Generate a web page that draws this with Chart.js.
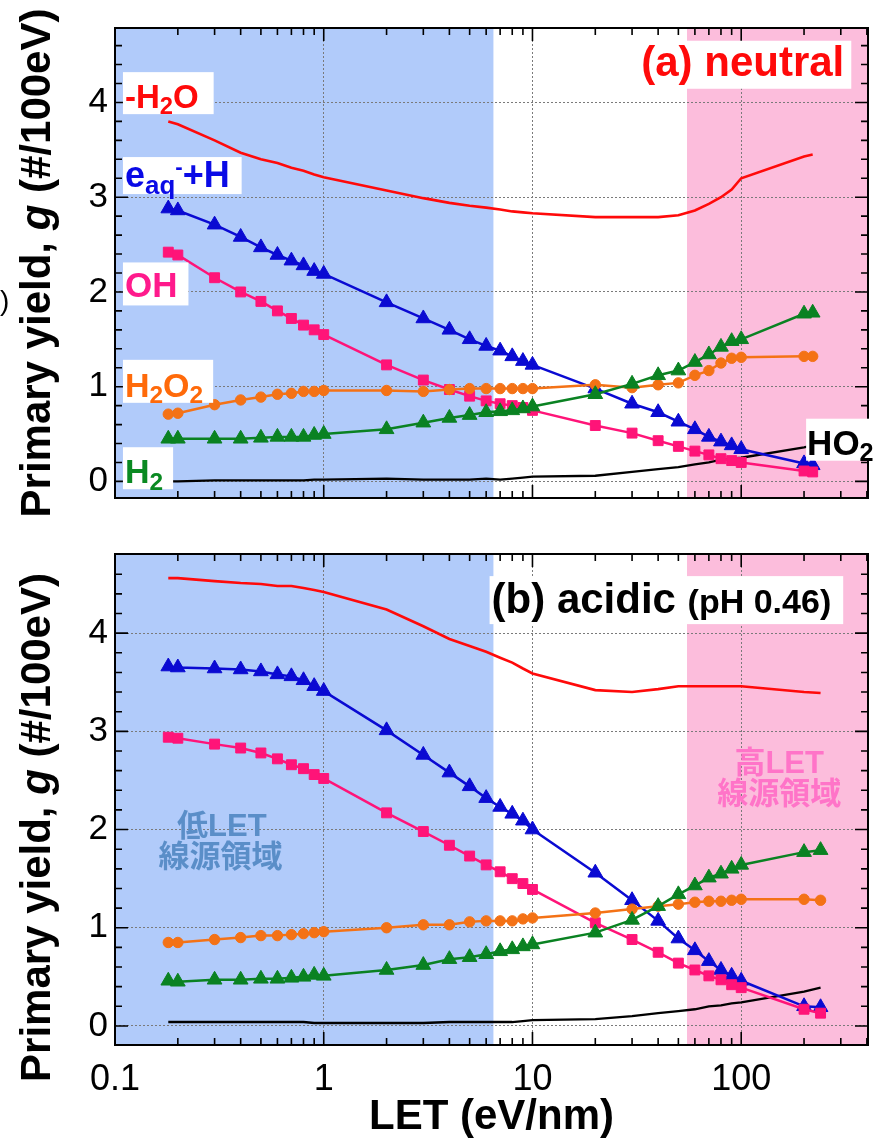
<!DOCTYPE html>
<html>
<head>
<meta charset="utf-8">
<script src="https://cdn.jsdelivr.net/npm/chart.js@4.4.1/dist/chart.umd.min.js"></script>
<style>
html,body{margin:0;padding:0;background:#fff;}
#wrap{position:relative;width:879px;height:1143px;overflow:hidden;background:#fff;}
#cA{position:absolute;left:0;top:0;}
#cB{position:absolute;left:0;top:526px;}
</style>
</head>
<body>
<div id="wrap">
<canvas id="cA" width="879" height="526"></canvas>
<canvas id="cB" width="879" height="617"></canvas>
</div>
<script>
// ---------- data (LET in eV/nm, primary yields g in #/100eV) ----------
const LET_NEUTRAL = [0.18,0.2,0.3,0.4,0.5,0.6,0.7,0.8,0.9,1,2,3,4,5,6,7,8,9,10,20,30,40,50,60,70,80,90,100,200,220];
const LET_ACIDIC  = [0.18,0.2,0.3,0.4,0.5,0.6,0.7,0.8,0.9,1,2,3,4,5,6,7,8,9,10,20,30,40,50,60,70,80,90,100,200,240];

const G_H2O_NEUTRAL  = [3.80,3.77,3.60,3.47,3.40,3.36,3.31,3.28,3.24,3.21,3.07,2.99,2.94,2.91,2.89,2.87,2.85,2.84,2.83,2.79,2.79,2.79,2.81,2.86,2.93,3.00,3.08,3.20,3.43,3.45];
const G_EAQH_NEUTRAL = [2.88,2.86,2.71,2.58,2.47,2.39,2.33,2.28,2.22,2.19,1.89,1.72,1.60,1.50,1.43,1.38,1.32,1.27,1.23,0.98,0.82,0.73,0.63,0.55,0.47,0.42,0.38,0.34,0.19,0.17];
const G_OH_NEUTRAL   = [2.42,2.39,2.15,2.00,1.90,1.80,1.72,1.65,1.60,1.55,1.23,1.07,0.97,0.90,0.85,0.82,0.80,0.78,0.75,0.59,0.51,0.43,0.37,0.32,0.28,0.24,0.22,0.20,0.11,0.10];
const G_H2O2_NEUTRAL = [0.71,0.72,0.81,0.86,0.89,0.92,0.93,0.95,0.95,0.96,0.96,0.95,0.97,0.98,0.98,0.98,0.98,0.98,0.98,1.02,0.99,1.02,1.04,1.12,1.17,1.25,1.30,1.31,1.32,1.32];
const G_H2_NEUTRAL   = [0.45,0.45,0.45,0.45,0.46,0.47,0.47,0.47,0.49,0.50,0.55,0.62,0.67,0.70,0.73,0.74,0.75,0.77,0.79,0.92,1.03,1.12,1.17,1.26,1.34,1.42,1.48,1.50,1.77,1.78];
const G_HO2_NEUTRAL  = [0.00,0.00,0.01,0.01,0.01,0.01,0.01,0.01,0.02,0.02,0.03,0.02,0.02,0.02,0.03,0.02,0.03,0.04,0.05,0.06,0.10,0.13,0.15,0.18,0.20,0.23,0.24,0.25,0.36,0.38];

const G_H2O_ACIDIC  = [4.56,4.56,4.53,4.51,4.50,4.48,4.48,4.46,4.44,4.42,4.24,4.07,3.94,3.87,3.81,3.75,3.70,3.64,3.59,3.42,3.40,3.43,3.46,3.46,3.46,3.46,3.46,3.46,3.40,3.39];
const G_EAQH_ACIDIC = [3.66,3.65,3.64,3.63,3.61,3.58,3.56,3.52,3.46,3.41,3.01,2.76,2.58,2.44,2.32,2.23,2.16,2.09,2.00,1.56,1.28,1.07,0.89,0.77,0.66,0.57,0.51,0.46,0.20,0.19];
const G_OH_ACIDIC   = [2.94,2.93,2.87,2.83,2.78,2.72,2.66,2.62,2.56,2.52,2.17,1.98,1.84,1.73,1.64,1.57,1.50,1.45,1.39,1.05,0.88,0.75,0.64,0.57,0.51,0.47,0.42,0.39,0.17,0.13];
const G_H2O2_ACIDIC = [0.85,0.85,0.88,0.90,0.92,0.92,0.93,0.94,0.95,0.96,1.00,1.03,1.03,1.06,1.07,1.07,1.07,1.09,1.10,1.15,1.19,1.22,1.24,1.26,1.27,1.27,1.28,1.29,1.29,1.28];
const G_H2_ACIDIC   = [0.46,0.45,0.47,0.47,0.48,0.48,0.49,0.50,0.52,0.51,0.57,0.62,0.68,0.70,0.73,0.76,0.78,0.81,0.83,0.95,1.08,1.22,1.34,1.43,1.51,1.55,1.60,1.64,1.77,1.79];
const G_HO2_ACIDIC  = [0.04,0.04,0.04,0.04,0.04,0.04,0.04,0.04,0.03,0.03,0.03,0.03,0.04,0.04,0.04,0.04,0.04,0.05,0.06,0.07,0.10,0.13,0.15,0.17,0.20,0.21,0.23,0.24,0.35,0.39];

const X_TICKS = [0.1, 1, 10, 100];
const X_TICK_LABELS = ['0.1', '1', '10', '100'];
const Y_TICKS = [0, 1, 2, 3, 4];
const X_MIN = 0.1, X_MAX = 405;
const LOW_LET_MAX = 6.5;    // low-LET region upper bound
const HIGH_LET_MIN = 55;    // high-LET region lower bound

const X_TITLE = 'LET (eV/nm)';
const Y_TITLE = ['Primary yield, ', 'g', ' (#/100eV)'];

// ---------- style ----------
const FONT = '"Liberation Sans", Arial, Helvetica, sans-serif';
const CJK = '"Liberation Sans", "Noto Sans CJK JP", sans-serif';
const C = {
  h2o: '#ff0a0a', eaq: '#0a0ad2', oh: '#ff1478', h2o2: '#f47216', h2: '#0a8222', ho2: '#000000',
  lowBg: '#b1cbfa', highBg: '#fcbddc',
  txtEaq: '#0a0ae6', txtOH: '#ff1a8c', txtH2O2: '#ff6a0a', txtH2: '#0a8a22',
  lowTxt: '#5a8ec8', highTxt: '#ff74c8', grid: '#7a7a7a'
};

Chart.defaults.font.family = FONT;
Chart.defaults.color = '#000';

function series(label, xs, ys, color, style, radius, width) {
  return {
    label, data: xs.map((x, i) => ({x, y: ys[i]})),
    borderColor: color, backgroundColor: color, borderWidth: width,
    pointStyle: style, pointRadius: radius, pointHoverRadius: radius,
    pointBorderWidth: 1, tension: 0, fill: false
  };
}
function datasetsFor(xs, h2o, eaq, oh, h2o2, h2, ho2) {
  // first item is drawn on top
  return [
    series('H2', xs, h2, C.h2, 'triangle', 8.5, 2.5),
    series('H2O2', xs, h2o2, C.h2o2, 'circle', 5.2, 2.5),
    series('OH', xs, oh, C.oh, 'rect', 7, 2.5),
    series('eaq-+H', xs, eaq, C.eaq, 'triangle', 8.5, 2.5),
    series('-H2O', xs, h2o, C.h2o, 'circle', 0, 2.6),
    series('HO2', xs, ho2, C.ho2, 'circle', 0, 2.3)
  ];
}

// ---------- rich text helpers ----------
function partFont(p, S) {
  const size = p.sub ? S * 0.72 : p.sup ? S * 0.62 : (p.s || S);
  return {font: (p.it ? 'italic ' : '') + 'bold ' + size + 'px ' + FONT, dy: p.sub ? S * 0.19 : p.sup ? -S * 0.36 : 0};
}
function measureParts(ctx, parts, S) {
  let w = 0;
  for (const p of parts) { ctx.font = partFont(p, S).font; w += ctx.measureText(p.t).width; }
  return w;
}
function drawParts(ctx, parts, x, base, S, color) {
  let cx = x;
  ctx.fillStyle = color; ctx.textAlign = 'left'; ctx.textBaseline = 'alphabetic';
  for (const p of parts) {
    const f = partFont(p, S);
    ctx.font = f.font;
    ctx.fillText(p.t, cx, base + f.dy);
    cx += ctx.measureText(p.t).width;
  }
}

// ---------- decoration plugin ----------
const decor = {
  id: 'decor',
  beforeDraw(chart) {
    const {ctx, chartArea: a, scales: {x}} = chart;
    ctx.save();
    ctx.fillStyle = '#fff';
    ctx.fillRect(0, 0, chart.width, chart.height);
    const xl = x.getPixelForValue(X_MIN), xlow = x.getPixelForValue(LOW_LET_MAX);
    const xhigh = x.getPixelForValue(HIGH_LET_MIN), xr = x.getPixelForValue(X_MAX);
    ctx.fillStyle = C.lowBg; ctx.fillRect(xl, a.top, xlow - xl, a.bottom - a.top);
    ctx.fillStyle = C.highBg; ctx.fillRect(xhigh, a.top, xr - xhigh, a.bottom - a.top);
    ctx.restore();
  },
  afterDatasetsDraw(chart, args, opts) {
    const {ctx, chartArea: a, scales: {x, y}} = chart;
    ctx.save();
    // frame
    ctx.strokeStyle = '#000'; ctx.lineWidth = 2;
    ctx.strokeRect(a.left, a.top, a.right - a.left, a.bottom - a.top);
    // inward ticks
    ctx.lineWidth = 1.6;
    ctx.beginPath();
    const MAJ = 13, MIN = 7;
    for (let d = 0.1; d < X_MAX; d *= 10) {
      for (let k = 1; k <= 9; k++) {
        const v = +(k * d).toPrecision(3);
        if (v <= X_MIN || v >= X_MAX) continue;
        const p = x.getPixelForValue(v), len = k === 1 ? MAJ : MIN;
        ctx.moveTo(p, a.top); ctx.lineTo(p, a.top + len);
        ctx.moveTo(p, a.bottom); ctx.lineTo(p, a.bottom - len);
      }
    }
    for (let i = Math.ceil(y.min / 0.2); i * 0.2 <= y.max; i++) {
      const v = i * 0.2, p = y.getPixelForValue(v);
      if (p <= a.top + 1 || p >= a.bottom - 1) continue;
      const len = (i % 5 === 0) ? MAJ : MIN;
      ctx.moveTo(a.left, p); ctx.lineTo(a.left + len, p);
      ctx.moveTo(a.right, p); ctx.lineTo(a.right - len, p);
    }
    ctx.stroke();
    // boxed labels
    for (const L of (opts.labels || [])) {
      const px = x.getPixelForValue(L.x), base = y.getPixelForValue(L.y);
      const w = measureParts(ctx, L.parts, L.S);
      const [pl, pt, pr, pb] = L.box;
      ctx.fillStyle = '#fff';
      ctx.fillRect(px - pl, base - pt, w + pl + pr, pt + pb);
      drawParts(ctx, L.parts, px, base, L.S, L.color);
    }
    // centred plain texts (region names)
    for (const T of (opts.texts || [])) {
      ctx.font = 'bold ' + T.S + 'px ' + CJK;
      ctx.fillStyle = T.color; ctx.textAlign = 'center'; ctx.textBaseline = 'middle';
      ctx.fillText(T.t, x.getPixelForValue(T.x), y.getPixelForValue(T.y));
    }
    ctx.restore();
  },
  afterDraw(chart, args, opts) {
    const {ctx, chartArea: a} = chart;
    ctx.save();
    const S = 42;
    const parts = Y_TITLE.map((t, i) => ({t, it: i === 1}));
    const w = measureParts(ctx, parts, S);
    ctx.translate(50, (a.top + a.bottom) / 2 + (opts.yTitleDy || 0));
    ctx.rotate(-Math.PI / 2);
    drawParts(ctx, parts, -w / 2, 0, S, '#000');
    ctx.restore();
    if (opts.stray) {
      ctx.save();
      ctx.font = '28px ' + FONT; ctx.fillStyle = '#000'; ctx.textBaseline = 'alphabetic'; ctx.textAlign = 'left';
      ctx.fillText(')', 0, opts.stray);
      ctx.restore();
    }
  }
};

function makeOptions(isBottom, yMin, yMax, decorOpts) {
  return {
    responsive: false, animation: false, events: [],
    layout: {padding: {left: 0, right: 11, top: isBottom ? 4 : 10, bottom: isBottom ? 0 : 5}},
    plugins: {legend: {display: false}, tooltip: {enabled: false}, decor: decorOpts},
    scales: {
      x: {
        type: 'logarithmic', min: X_MIN, max: X_MAX,
        afterBuildTicks: s => { s.ticks = X_TICKS.map(v => ({value: v})); },
        afterFit: s => { s.height = isBottom ? 98 : 0; },
        ticks: {display: isBottom, font: {size: 36}, color: '#000', padding: 13, maxRotation: 0, autoSkip: false,
                callback: v => X_TICK_LABELS[X_TICKS.indexOf(v)] ?? ''},
        grid: {color: C.grid, lineWidth: 1, drawTicks: false},
        border: {display: false, dash: [2, 2]},
        title: {display: isBottom, text: X_TITLE, font: {size: 42, weight: 'bold'}, color: '#000', padding: {top: 0, bottom: 0}}
      },
      y: {
        type: 'linear', min: yMin, max: yMax,
        afterBuildTicks: s => { s.ticks = Y_TICKS.map(v => ({value: v})); },
        afterFit: s => { s.width = 115; },
        ticks: {font: {size: 35}, color: '#000', padding: 7, callback: v => String(v)},
        grid: {color: C.grid, lineWidth: 1, drawTicks: false},
        border: {display: false, dash: [2, 2]}
      }
    }
  };
}

const labelsNeutral = [
  {parts: [{t: '-H'}, {t: '2', sub: 1}, {t: 'O'}], color: C.h2o, x: 0.1116, y: 3.94, S: 33, box: [2, 36, 15, 6]},
  {parts: [{t: 'e'}, {t: 'aq', sub: 1}, {t: '-', sup: 1}, {t: '+H'}], color: C.txtEaq, x: 0.1116, y: 3.107, S: 36, box: [2, 30, 12, 7]},
  {parts: [{t: 'OH'}], color: C.txtOH, x: 0.1116, y: 1.942, S: 35, box: [2, 35, 11, 8]},
  {parts: [{t: 'H'}, {t: '2', sub: 1}, {t: 'O'}, {t: '2', sub: 1}], color: C.txtH2O2, x: 0.1116, y: 0.893, S: 34, box: [2, 37, 10, 6]},
  {parts: [{t: 'H'}, {t: '2', sub: 1}], color: C.txtH2, x: 0.1116, y: -0.019, S: 34, box: [2, 36, 10, 6]},
  {parts: [{t: 'HO'}, {t: '2', sub: 1}], color: '#000', x: 206.9, y: 0.282, S: 35, box: [1, 36, 10, 6]},
  {parts: [{t: '(a) neutral'}], color: C.h2o, x: 33.2, y: 4.282, S: 42, box: [2, 35, 7, 13]}
];
const labelsAcidic = [
  {parts: [{t: '(b) acidic '}, {t: '(pH 0.46)', s: 34}], color: '#000', x: 6.37, y: 4.204, S: 42, box: [2, 37, 12, 11]}
];
const textsAcidic = [
  {t: '低LET', x: 0.325, y: 2.02, S: 31, color: C.lowTxt},
  {t: '線源領域', x: 0.32, y: 1.71, S: 31, color: C.lowTxt},
  {t: '高LET', x: 152, y: 2.66, S: 31, color: C.highTxt},
  {t: '線源領域', x: 152, y: 2.35, S: 31, color: C.highTxt}
];

new Chart(document.getElementById('cA'), {
  type: 'line',
  data: {datasets: datasetsFor(LET_NEUTRAL, G_H2O_NEUTRAL, G_EAQH_NEUTRAL, G_OH_NEUTRAL, G_H2O2_NEUTRAL, G_H2_NEUTRAL, G_HO2_NEUTRAL)},
  options: makeOptions(false, -0.175, 4.786, {labels: labelsNeutral, yTitleDy: 0, stray: 310}),
  plugins: [decor]
});
new Chart(document.getElementById('cB'), {
  type: 'line',
  data: {datasets: datasetsFor(LET_ACIDIC, G_H2O_ACIDIC, G_EAQH_ACIDIC, G_OH_ACIDIC, G_H2O2_ACIDIC, G_H2_ACIDIC, G_HO2_ACIDIC)},
  options: makeOptions(true, -0.194, 4.806, {labels: labelsAcidic, texts: textsAcidic, yTitleDy: 28}),
  plugins: [decor]
});
</script>
</body>
</html>
